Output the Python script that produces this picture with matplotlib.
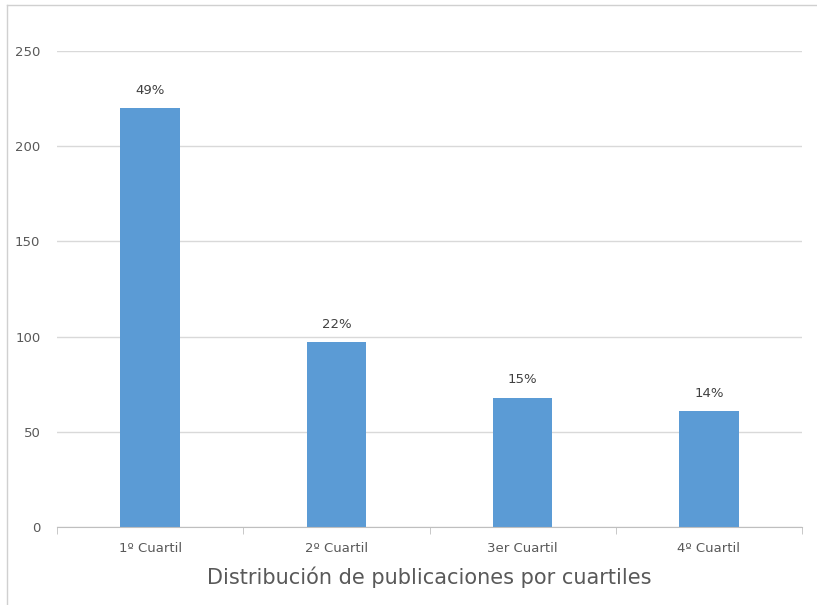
import numpy as np
import matplotlib.pyplot as plt
from matplotlib.lines import Line2D

# Data
categories = ['1º Cuartil', '2º Cuartil', '3er Cuartil', '4º Cuartil']
counts = [220, 97, 68, 61]
percent_labels = ['49%', '22%', '15%', '14%']
y_ticks = [0, 50, 100, 150, 200, 250]

fig = plt.figure(figsize=(8.17, 6.05), dpi=100)
ax = fig.add_axes([57 / 817, 1 - 527 / 605, (802 - 57) / 817, (527 - 51) / 605])

x = np.arange(len(categories))
bars = ax.bar(x, counts, width=0.32, color='#5b9bd5', zorder=3)

# percentage labels above bars
for rect, lab in zip(bars, percent_labels):
    ax.annotate(lab, (rect.get_x() + rect.get_width() / 2, rect.get_height()),
                xytext=(0, 8), textcoords='offset points', ha='center', va='bottom',
                fontsize=9.5, color='#404040')

ax.set_xlim(-0.5, len(categories) - 0.5)
ax.set_ylim(0, 250)
ax.set_yticks(y_ticks)
ax.set_xticks(x)
ax.set_xticklabels(categories)
ax.set_xticks(np.arange(-0.5, len(categories), 1.0), minor=True)

ax.grid(axis='y', color='#d9d9d9', linewidth=1, zorder=0)
for side in ['top', 'right', 'left']:
    ax.spines[side].set_visible(False)
ax.spines['bottom'].set_color('#bfbfbf')
ax.spines['bottom'].set_zorder(4)

ax.tick_params(axis='y', length=0, pad=12, labelsize=9.5, labelcolor='#595959')
ax.tick_params(axis='x', which='major', length=0, pad=11, labelsize=9.5, labelcolor='#595959')
ax.tick_params(axis='x', which='minor', length=5, color='#bfbfbf', direction='out')

ax.set_xlabel('Distribución de publicaciones por cuartiles', fontsize=15,
              color='#595959', labelpad=8)

# thin frame lines on top and left of the image
fig.add_artist(Line2D([7 / 817, 1], [1 - 5 / 605, 1 - 5 / 605], color='#d0d0d0', lw=1))
fig.add_artist(Line2D([7 / 817, 7 / 817], [0, 1 - 5 / 605], color='#d0d0d0', lw=1))

fig.savefig('out.png', dpi=100)
